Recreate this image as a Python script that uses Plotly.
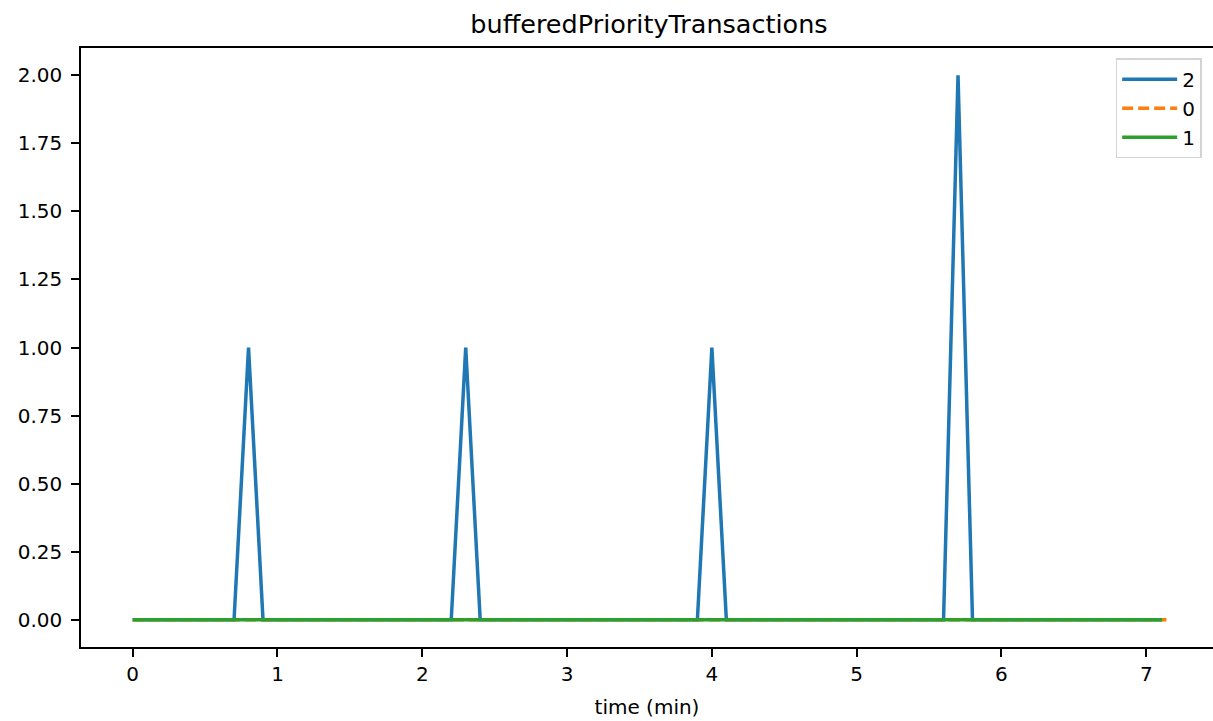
import plotly.graph_objects as go

# Series "2": spikes in buffered priority transactions
t2 = [0, 0.7, 0.8, 0.9, 2.2, 2.3, 2.4, 3.9, 4.0, 4.1, 5.6, 5.7, 5.8, 7.11]
v2 = [0, 0, 1, 0, 0, 1, 0, 0, 1, 0, 0, 2, 0, 0]
# Series "0"
t0 = [0, 7.14]
v0 = [0, 0]
# Series "1"
t1 = [0, 7.11]
v1 = [0, 0]

x_ticks = [0, 1, 2, 3, 4, 5, 6, 7]
y_ticks = [0, 0.25, 0.5, 0.75, 1.0, 1.25, 1.5, 1.75, 2.0]

fig = go.Figure()
fig.add_trace(go.Scatter(x=t2, y=v2, mode="lines", name="2",
                         line=dict(color="#1f77b4", width=3.5)))
fig.add_trace(go.Scatter(x=t0, y=v0, mode="lines", name="0",
                         line=dict(color="#ff7f0e", width=3.5, dash="11px,5px")))
fig.add_trace(go.Scatter(x=t1, y=v1, mode="lines", name="1",
                         line=dict(color="#2ca02c", width=3.5)))

font = "DejaVu Sans"
W, H = 1213, 721
fig.update_layout(
    width=W, height=H,
    margin=dict(l=81, r=0, t=48, b=74),
    paper_bgcolor="white", plot_bgcolor="white",
    font=dict(family=font, size=20, color="black"),
    title=dict(text="bufferedPriorityTransactions", x=649 / W, xref="container",
               xanchor="center", y=1 - 24 / H, yanchor="middle",
               font=dict(family=font, size=25.5, color="black")),
    showlegend=True,
    legend=dict(x=0.914, y=0.983, xanchor="left", yanchor="top",
                bgcolor="white", bordercolor="#d4d4d4", borderwidth=1.5,
                font=dict(family=font, size=20, color="black"),
                itemwidth=55, tracegroupgap=0),
    xaxis=dict(range=[-0.357, 7.461], tickvals=x_ticks, ticktext=[str(v) for v in x_ticks],
               showgrid=False, zeroline=False, showline=True, linecolor="black",
               linewidth=1.6, mirror=True, ticks="outside", ticklen=8, tickwidth=1.6,
               tickcolor="black", tickfont=dict(size=20),
               title=dict(text="time (min)", font=dict(size=20), standoff=15)),
    yaxis=dict(range=[-0.1, 2.1], tickvals=y_ticks, ticktext=[f"{v:.2f}" for v in y_ticks],
               showgrid=False, zeroline=False, showline=True, linecolor="black",
               linewidth=1.6, mirror=False, ticks="outside", ticklen=8, tickwidth=1.6,
               tickcolor="black", tickfont=dict(size=20), ticklabelstandoff=5),
)

fig.write_html(
    "out.html",
    config={"displayModeBar": False},
    post_script="document.body.style.margin='0';document.body.style.overflow='hidden';",
)
